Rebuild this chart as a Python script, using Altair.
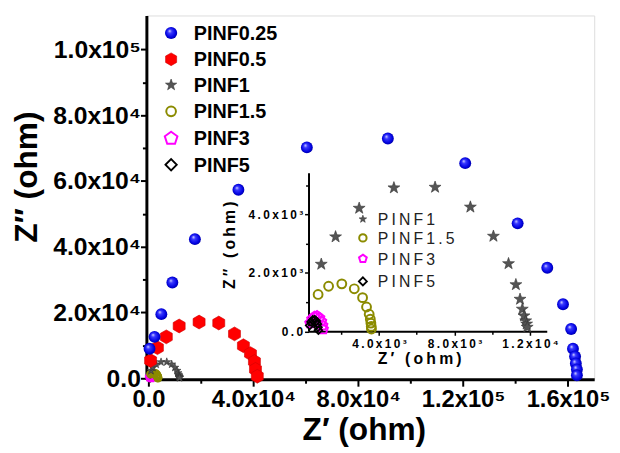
import altair as alt
import pandas as pd

# ---------------- data ----------------
names = ["PINF0.25", "PINF0.5", "PINF1", "PINF1.5", "PINF3", "PINF5"]

p025_x = [400, 2300, 4900, 9100, 17700, 34300, 60400, 91300, 120800, 140800, 152100, 158100,
          161200, 161900, 162700, 163000, 163400, 163400]
p025_y = [9000, 12600, 19500, 29100, 42300, 57300, 70200, 72900, 65400, 47100, 33600, 22500,
          15000, 9000, 6600, 4500, 2700, 900]

p05_x = [800, 3400, 6800, 11700, 19300, 26800, 32800, 36200, 38900, 40400, 40800, 41500]
p05_y = [5400, 9300, 12600, 15900, 17100, 16800, 13500, 9900, 7500, 5100, 2700, 600]

p1_x = [942, 1700, 2950, 4790, 6970, 8840, 10060, 10860, 11250, 11470, 11590, 11680, 11770, 11820, 11850]
p1_y = [2300, 3240, 4220, 4920, 4940, 4260, 3260, 2320, 1600, 1100, 760, 530, 360, 250, 140]

p15_x = [775, 1330, 2030, 2690, 3130, 3340, 3480, 3540, 3570, 3590, 3600]
p15_y = [1264, 1546, 1627, 1458, 1153, 834, 586, 417, 281, 169, 78]

p3_x = [350, 450, 580, 720, 850, 950, 1010, 1040]
p3_y = [280, 420, 500, 520, 460, 340, 200, 70]

p5_x = [330, 400, 490, 590, 680, 740, 770, 790]
p5_y = [200, 320, 390, 400, 350, 250, 140, 40]

# main axes ticks
x_tick_vals = [0, 20000, 40000, 60000, 80000, 100000, 120000, 140000, 160000]
x_tick_labels = ["0.0", "", "4.0x10⁴", "", "8.0x10⁴", "", "1.2x10⁵", "", "1.6x10⁵"]
y_tick_vals = [0, 10000, 20000, 30000, 40000, 50000, 60000, 70000, 80000, 90000, 100000]
y_tick_labels = ["0.0", "", "2.0x10⁴", "", "4.0x10⁴", "", "6.0x10⁴", "", "8.0x10⁴", "", "1.0x10⁵"]

# inset axes ticks
ix_tick_vals = [2000, 4000, 6000, 8000, 10000, 12000]
ix_tick_labels = ["", "4.0x10³", "", "8.0x10³", "", "1.2x10⁴"]
iy_tick_vals = [0, 1000, 2000, 3000, 4000, 5000]
iy_tick_labels = ["0.0", "", "2.0x10³", "", "4.0x10³", ""]

inset_names = ["PINF1", "PINF1.5", "PINF3", "PINF5"]

# ---------------- styling ----------------
FONT = "Liberation Sans"
THIN = "\u2009"


def spaced(s):
    return THIN.join(list(s))


def label_expr(vals, labels, fmt=lambda s: s):
    expr = "''"
    for v, l in reversed(list(zip(vals, labels))):
        expr = f"datum.value === {v} ? '{fmt(l)}' : ({expr})"
    return expr


STAR = ("M0,-1L0.235,-0.324L0.951,-0.309L0.38,0.124L0.588,0.809L0,0.4L-0.588,0.809"
        "L-0.38,0.124L-0.951,-0.309L-0.235,-0.324Z")
HEX = "M0,-1L0.866,-0.5L0.866,0.5L0,1L-0.866,0.5L-0.866,-0.5Z"
PENT = "M0,-1L0.951,-0.309L0.588,0.809L-0.588,0.809L-0.951,-0.309Z"

SPHERE = {"gradient": "radial", "x1": 0.36, "y1": 0.32, "r1": 0.0,
          "x2": 0.5, "y2": 0.5, "r2": 0.56,
          "stops": [{"offset": 0.0, "color": "#e6e6ff"},
                    {"offset": 0.28, "color": "#3a3aff"},
                    {"offset": 0.75, "color": "#0000e0"},
                    {"offset": 1.0, "color": "#00008a"}]}

OLIVE = "#8b8b00"


def style(name, scale=1.0):
    if name == "PINF0.25":
        return dict(shape="circle", filled=True, fill=SPHERE, opacity=1, size=145 * scale, strokeWidth=0)
    if name == "PINF0.5":
        return dict(shape=HEX, filled=True, fill="#ff0000", opacity=1, size=196 * scale,
                    stroke="#d00000", strokeWidth=0.6)
    if name == "PINF1":
        return dict(shape=STAR, filled=True, fill="#555555", opacity=1, size=160 * scale,
                    stroke="#333333", strokeWidth=0.6)
    if name == "PINF1.5":
        return dict(shape="circle", filled=False, stroke=OLIVE, opacity=1, size=80 * scale, strokeWidth=2)
    if name == "PINF3":
        return dict(shape=PENT, filled=False, stroke="#ff00ff", opacity=1, size=150 * scale, strokeWidth=2)
    return dict(shape="diamond", filled=False, stroke="#000000", opacity=1, size=110 * scale, strokeWidth=1.8)


def cond_size(step, major, minor):
    return {"condition": {"test": f"datum.value % {step} === 0", "value": major}, "value": minor}


common_axis = dict(grid=False, domainColor="black", tickColor="black", labelColor="black",
                   titleColor="black", labelFont=FONT, titleFont=FONT, labelFontWeight="bold",
                   titleFontWeight="bold", labelOverlap=False, labelFlush=False)

main_x_axis = alt.Axis(values=x_tick_vals, labelExpr=label_expr(x_tick_vals, x_tick_labels),
                       orient="bottom", title="Z′ (ohm)", titleFontSize=32, labelFontSize=24,
                       domainWidth=3, tickWidth=2, tickSize=cond_size(40000, 7, 4),
                       labelPadding=2, titleX=220, titleY=51, titleBaseline="middle",
                       **common_axis)
main_y_axis = alt.Axis(values=y_tick_vals, labelExpr=label_expr(y_tick_vals, y_tick_labels),
                       orient="left", title="Z″ (ohm)", titleFontSize=32, labelFontSize=25,
                       domainWidth=3, tickWidth=2, tickSize=cond_size(20000, 6, 4),
                       labelPadding=0, titleX=-121, titleY=163, titleBaseline="middle",
                       **common_axis)

inset_x_axis = alt.Axis(values=ix_tick_vals, labelExpr=label_expr(ix_tick_vals, ix_tick_labels, spaced),
                        orient="bottom", offset=-48.5, title=spaced("Z′ (ohm)"), titleFontSize=16,
                        labelFontSize=12, domainWidth=2, tickWidth=1.5, tickSize=cond_size(4000, 4, 3),
                        labelPadding=3, titleX=276, titleY=28, titleBaseline="middle",
                        **common_axis)
inset_y_axis = alt.Axis(values=iy_tick_vals, labelExpr=label_expr(iy_tick_vals, iy_tick_labels, spaced),
                        orient="left", offset=-164, title=spaced("Z″ (ohm)"), titleFontSize=16,
                        labelFontSize=12, domainWidth=2, tickWidth=1.5, tickSize=cond_size(2000, 4, 3),
                        labelPadding=2, titleX=-80, titleY=232, titleBaseline="middle",
                        **common_axis)

main_xs = alt.Scale(domain=[-800, 170000], nice=False, zero=False)
main_ys = alt.Scale(domain=[-300, 110300], nice=False, zero=False)
inset_xs = alt.Scale(domain=[267, 12885], range=[164, 405], nice=False, zero=False)
inset_ys = alt.Scale(domain=[0, 5440], range=[319.5, 159], nice=False, zero=False)

main_data = {"PINF0.25": (p025_x, p025_y), "PINF0.5": (p05_x, p05_y), "PINF1": (p1_x, p1_y),
             "PINF1.5": (p15_x, p15_y), "PINF3": (p3_x, p3_y), "PINF5": (p5_x, p5_y)}
main_scale = {"PINF0.25": 1.0, "PINF0.5": 1.0, "PINF1": 0.45, "PINF1.5": 0.6, "PINF3": 0.4, "PINF5": 0.4}
inset_scale = {"PINF1": 1.0, "PINF1.5": 1.0, "PINF3": 0.7, "PINF5": 0.55}

draw_order = ["PINF5", "PINF3", "PINF1.5", "PINF1", "PINF0.5", "PINF0.25"]

main_layers = []
for n in draw_order:
    xs, ys = main_data[n]
    df = pd.DataFrame({"zr": xs, "zi": ys})
    main_layers.append(
        alt.Chart(df).mark_point(**style(n, main_scale[n])).encode(
            x=alt.X("zr:Q", scale=main_xs, axis=main_x_axis),
            y=alt.Y("zi:Q", scale=main_ys, axis=main_y_axis),
        )
    )
main = alt.layer(*main_layers)

inset_layers = []
for n in ["PINF1.5", "PINF1", "PINF3", "PINF5"]:
    xs, ys = main_data[n]
    df = pd.DataFrame({"zr": xs, "zi": ys})
    inset_layers.append(
        alt.Chart(df).mark_point(**style(n, inset_scale[n])).encode(
            x=alt.X("zr:Q", scale=inset_xs, axis=inset_x_axis),
            y=alt.Y("zi:Q", scale=inset_ys, axis=inset_y_axis),
        )
    )
inset = alt.layer(*inset_layers)

# ---------------- legends ----------------
one = pd.DataFrame({"k": [0]})
legend_layers = []
main_rows = [17.7, 44.3, 70.3, 97.0, 124.3, 151.0]
main_leg_scale = {"PINF0.25": 1.05, "PINF0.5": 0.85, "PINF1": 0.9, "PINF1.5": 1.2, "PINF3": 1.2, "PINF5": 1.2}
for n, ry in zip(names, main_rows):
    legend_layers.append(alt.Chart(one).mark_point(**style(n, main_leg_scale[n])).encode(
        x=alt.value(25), y=alt.value(ry)))
    legend_layers.append(alt.Chart(pd.DataFrame({"t": [n]})).mark_text(
        font=FONT, fontSize=20, fontWeight="bold", color="black", align="left", baseline="middle"
    ).encode(text="t:N", x=alt.value(48), y=alt.value(ry + 1)))

inset_rows = [206.0, 225.0, 246.0, 269.0]
inset_leg_scale = {"PINF1": 0.4, "PINF1.5": 0.7, "PINF3": 0.45, "PINF5": 0.6}
for n, ry in zip(inset_names, inset_rows):
    legend_layers.append(alt.Chart(one).mark_point(**style(n, inset_leg_scale[n])).encode(
        x=alt.value(219), y=alt.value(ry)))
    legend_layers.append(alt.Chart(pd.DataFrame({"t": [spaced(n)]})).mark_text(
        font=FONT, fontSize=16, color="#222222", align="left", baseline="middle"
    ).encode(text="t:N", x=alt.value(234), y=alt.value(ry + 1)))

legend = alt.layer(*legend_layers)

chart = alt.layer(main, inset, legend).resolve_scale(x="independent", y="independent").resolve_axis(
    x="independent", y="independent"
).properties(
    width=453, height=368,
    autosize=alt.AutoSizeParams(type="none"),
    padding={"left": 140, "top": 5, "right": 18, "bottom": 70},
).configure_view(stroke="black", strokeWidth=3).configure(background="white")

chart.save("out.html", embed_options={"renderer": "svg", "actions": False})
